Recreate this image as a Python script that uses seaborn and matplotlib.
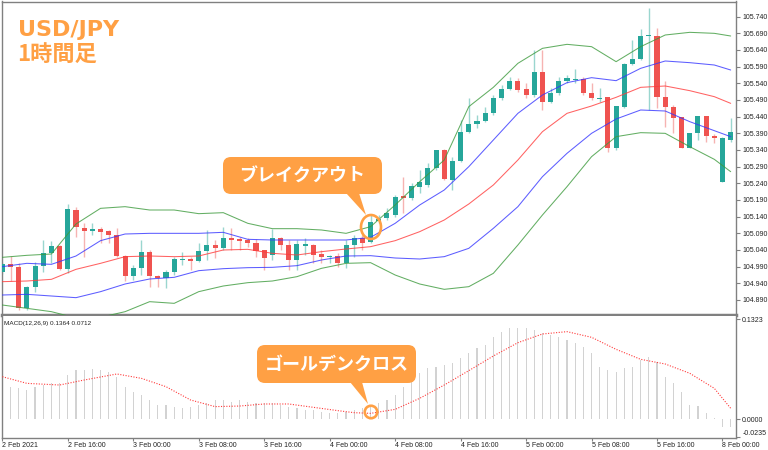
import numpy as np
import pandas as pd
import matplotlib
matplotlib.use('Agg')
import matplotlib.pyplot as plt
import seaborn as sns
from matplotlib.patches import FancyBboxPatch, Polygon, Ellipse

sns.set_style('white')
plt.rcParams['font.family'] = ['Liberation Sans', 'DejaVu Sans']

# ---------------- data (USD/JPY, 1h candles, 2 Feb 08:00 -> 8 Feb 01:00) ----------------
opens = [104.974, 104.998, 104.989, 104.866, 104.929, 104.992, 105.031, 105.052, 104.983, 105.160,
         105.106, 105.097, 105.103, 105.097, 105.085, 105.022, 104.962, 104.986, 105.034, 104.962,
         104.956, 104.974, 105.010, 105.013, 105.007, 105.037, 105.055, 105.046, 105.076, 105.073,
         105.070, 105.061, 105.040, 105.025, 105.076, 105.055, 105.010, 105.052, 105.055, 105.028,
         105.019, 105.022, 105.001, 105.055, 105.076, 105.064, 105.127, 105.135, 105.145, 105.202,
         105.195, 105.230, 105.235, 105.287, 105.340, 105.250, 105.308, 105.393, 105.418, 105.428,
         105.450, 105.495, 105.522, 105.548, 105.522, 105.505, 105.575, 105.485, 105.510, 105.548,
         105.550, 105.554, 105.510, 105.493, 105.498, 105.345, 105.470, 105.598, 105.613, 105.681,
         105.682, 105.500, 105.470, 105.438, 105.347, 105.390, 105.442, 105.382, 105.244, 105.370]
highs = [105.004, 105.022, 105.000, 104.932, 105.004, 105.070, 105.067, 105.055, 105.178, 105.169,
         105.121, 105.121, 105.109, 105.100, 105.106, 105.025, 104.995, 105.070, 105.040, 104.965,
         104.980, 105.019, 105.034, 105.019, 105.061, 105.100, 105.070, 105.109, 105.106, 105.080,
         105.076, 105.073, 105.040, 105.103, 105.079, 105.070, 105.070, 105.076, 105.058, 105.040,
         105.025, 105.030, 105.070, 105.085, 105.085, 105.145, 105.145, 105.165, 105.205, 105.260,
         105.240, 105.280, 105.300, 105.340, 105.342, 105.320, 105.430, 105.495, 105.445, 105.470,
         105.505, 105.535, 105.560, 105.555, 105.540, 105.640, 105.640, 105.525, 105.560, 105.565,
         105.582, 105.560, 105.540, 105.525, 105.500, 105.472, 105.600, 105.670, 105.702, 105.765,
         105.705, 105.547, 105.475, 105.440, 105.392, 105.442, 105.442, 105.388, 105.380, 105.435]
lows = [104.968, 104.947, 104.860, 104.860, 104.914, 104.974, 105.001, 104.980, 104.971, 105.079,
        105.019, 105.085, 105.061, 105.061, 105.019, 104.947, 104.950, 104.965, 104.929, 104.929,
        104.926, 104.965, 104.995, 104.980, 105.004, 105.010, 105.015, 105.040, 105.040, 105.040,
        105.050, 105.019, 104.980, 105.010, 105.040, 104.980, 104.980, 105.025, 105.000, 105.000,
        105.000, 104.990, 104.985, 105.020, 105.040, 105.060, 105.120, 105.130, 105.140, 105.150,
        105.190, 105.210, 105.230, 105.280, 105.250, 105.220, 105.305, 105.390, 105.405, 105.425,
        105.445, 105.490, 105.520, 105.515, 105.495, 105.500, 105.460, 105.480, 105.505, 105.540,
        105.540, 105.505, 105.490, 105.485, 105.335, 105.340, 105.465, 105.595, 105.610, 105.460,
        105.465, 105.408, 105.390, 105.345, 105.345, 105.370, 105.365, 105.360, 105.244, 105.365]
closes = [104.998, 104.989, 104.866, 104.929, 104.992, 105.031, 105.052, 104.983, 105.163, 105.109,
          105.097, 105.103, 105.094, 105.085, 105.022, 104.962, 104.986, 105.034, 104.962, 104.956,
          104.974, 105.013, 105.013, 105.007, 105.037, 105.055, 105.046, 105.076, 105.070, 105.067,
          105.061, 105.037, 105.016, 105.076, 105.055, 105.010, 105.058, 105.058, 105.025, 105.019,
          105.022, 105.001, 105.055, 105.076, 105.061, 105.124, 105.133, 105.150, 105.200, 105.197,
          105.232, 105.245, 105.287, 105.340, 105.252, 105.308, 105.393, 105.418, 105.428, 105.450,
          105.495, 105.522, 105.548, 105.520, 105.505, 105.575, 105.485, 105.510, 105.548, 105.555,
          105.554, 105.510, 105.495, 105.495, 105.345, 105.472, 105.598, 105.613, 105.682, 105.683,
          105.500, 105.470, 105.437, 105.347, 105.390, 105.442, 105.382, 105.375, 105.376, 105.395]

# Bollinger bands (read at every third bar)
band_idx = [0, 3, 6, 9, 12, 15, 18, 21, 24, 27, 30, 33, 36, 39, 42, 45, 48, 51, 54, 57,
            60, 63, 66, 69, 72, 75, 78, 81, 84, 87, 89]
bb_upper2 = [105.018, 105.024, 105.028, 105.118, 105.165, 105.170, 105.160, 105.160, 105.149, 105.152,
             105.120, 105.104, 105.104, 105.100, 105.090, 105.110, 105.175, 105.245, 105.310, 105.470,
             105.528, 105.600, 105.645, 105.657, 105.650, 105.605, 105.650, 105.685, 105.693, 105.690, 105.682]
bb_upper1 = [104.990, 105.000, 104.997, 105.022, 105.068, 105.088, 105.090, 105.090, 105.090, 105.093,
             105.072, 105.070, 105.070, 105.070, 105.070, 105.078, 105.120, 105.175, 105.220, 105.290,
             105.370, 105.450, 105.505, 105.542, 105.557, 105.548, 105.585, 105.607, 105.602, 105.595, 105.580]
bb_middle = [104.945, 104.947, 104.952, 104.982, 105.000, 105.020, 105.022, 105.020, 105.022, 105.040,
             105.042, 105.030, 105.025, 105.035, 105.043, 105.050, 105.068, 105.095, 105.130, 105.178,
             105.235, 105.310, 105.395, 105.450, 105.472, 105.498, 105.528, 105.532, 105.518, 105.500, 105.480]
bb_lower1 = [104.905, 104.907, 104.902, 104.897, 104.915, 104.938, 104.953, 104.958, 104.978, 104.984,
             104.987, 104.988, 104.993, 105.010, 105.022, 105.023, 105.016, 105.013, 105.020, 105.045,
             105.105, 105.170, 105.260, 105.330, 105.390, 105.433, 105.460, 105.457, 105.425, 105.398, 105.380]
bb_lower2 = [104.875, 104.865, 104.855, 104.836, 104.838, 104.855, 104.885, 104.880, 104.915, 104.932,
             104.942, 104.947, 104.960, 104.985, 105.000, 105.002, 104.965, 104.938, 104.922, 104.930,
             104.970, 105.055, 105.145, 105.230, 105.320, 105.380, 105.392, 105.390, 105.350, 105.312, 105.275]

# MACD(12,26,9): main (histogram) per bar, signal read at points
macd_main = [0.0432, 0.0423, 0.0410, 0.0388, 0.0432, 0.0454, 0.0476, 0.0476, 0.0587, 0.0653,
             0.0653, 0.0662, 0.0653, 0.0631, 0.0564, 0.0432, 0.0366, 0.0322, 0.0256, 0.0190,
             0.0190, 0.0168, 0.0146, 0.0168, 0.0190, 0.0212, 0.0256, 0.0256, 0.0234, 0.0256,
             0.0234, 0.0212, 0.0212, 0.0212, 0.0190, 0.0168, 0.0146, 0.0123, 0.0123, 0.0101,
             0.0079, 0.0079, 0.0101, 0.0123, 0.0146, 0.0168, 0.0212, 0.0256, 0.0322, 0.0432,
             0.0498, 0.0609, 0.0675, 0.0697, 0.0719, 0.0741, 0.0807, 0.0873, 0.0939, 0.0983,
             0.1094, 0.1160, 0.1204, 0.1204, 0.1204, 0.1182, 0.1138, 0.1116, 0.1094, 0.1050,
             0.1005, 0.0961, 0.0873, 0.0697, 0.0653, 0.0631, 0.0675, 0.0697, 0.0785, 0.0829,
             0.0763, 0.0564, 0.0476, 0.0366, 0.0190, 0.0176, 0.0084, 0.0018, -0.0101, -0.0101]
signal_idx = [0, 3, 7, 10, 14, 17, 20, 23, 26, 29, 32, 35, 38, 41, 43, 45, 48, 51, 54, 57,
              60, 63, 66, 69, 72, 75, 78, 81, 84, 87, 89]
macd_signal = [0.0564, 0.0476, 0.0454, 0.0520, 0.0600, 0.0542, 0.0432, 0.0256, 0.0168, 0.0176,
               0.0203, 0.0203, 0.0159, 0.0115, 0.0088, 0.0079, 0.0132, 0.0278, 0.0454, 0.0644,
               0.0838, 0.1014, 0.1129, 0.1160, 0.1085, 0.0926, 0.0794, 0.0732, 0.0609, 0.0410, 0.0146]

price_ticks = [104.890, 104.940, 104.990, 105.040, 105.090, 105.140, 105.190, 105.240, 105.290,
               105.340, 105.390, 105.440, 105.490, 105.540, 105.590, 105.640, 105.690, 105.740]
macd_ticks = [0.1323, 0.0000, -0.0235]
time_tick_idx = [0, 8, 16, 24, 32, 40, 48, 56, 64, 72, 80, 88]
time_labels = ['2 Feb 2021', '2 Feb 16:00', '3 Feb 00:00', '3 Feb 08:00', '3 Feb 16:00', '4 Feb 00:00',
               '4 Feb 08:00', '4 Feb 16:00', '5 Feb 00:00', '5 Feb 08:00', '5 Feb 16:00', '8 Feb 00:00']

title_lines = ['USD/JPY', '1時間足']
callout_break = 'ブレイクアウト'
callout_cross = 'ゴールデンクロス'
macd_label = 'MACD(12,26,9) 0.1364 0.0712'

# ---------------- figure ----------------
W, H = 768, 450
fig = plt.figure(figsize=(W / 100, H / 100), dpi=100)
fig.patch.set_facecolor('white')


def frac(x0, y0, x1, y1):
    return [x0 / W, 1 - y1 / H, (x1 - x0) / W, (y1 - y0) / H]


ax = fig.add_axes(frac(1.5, 1.5, 736, 315))
axm = fig.add_axes(frac(1.5, 316, 736, 438))

UP, DN = '#26a69a', '#ef5350'
UPW, DNW = '#9ad6cf', '#f6b3b2'
ORANGE = '#ffa044'
GRAY = '#808080'

df = pd.DataFrame({'i': np.arange(len(opens)), 'o': opens, 'h': highs, 'l': lows, 'c': closes})
df['up'] = df['c'] >= df['o']

ax.vlines(df['i'], df['l'], df['h'], colors=np.where(df['up'], UPW, DNW), lw=1.0, zorder=2)
ax.bar(df['i'], np.maximum((df['c'] - df['o']).abs(), 0.0025), bottom=np.minimum(df['o'], df['c']),
       width=0.62, color=np.where(df['up'], UP, DN), linewidth=0, zorder=3)

bands = pd.DataFrame({'i': band_idx, 'u2': bb_upper2, 'u1': bb_upper1, 'm': bb_middle,
                      'l1': bb_lower1, 'l2': bb_lower2})
for col, colr in [('u2', '#3c9a3c'), ('l2', '#3c9a3c'), ('u1', '#3535ff'), ('l1', '#3535ff'), ('m', '#ff3b3b')]:
    sns.lineplot(data=bands, x='i', y=col, ax=ax, color=colr, lw=0.75, alpha=0.8, zorder=4)

xlim = (-0.1, 89.65)
ax.set_xlim(*xlim)
ax.set_ylim(104.845, 105.7855)
ax.set_xlabel('')
ax.set_ylabel('')
ax.set_xticks([])
ax.yaxis.tick_right()
ax.set_yticks(price_ticks)
ax.set_yticklabels([f'{v:.3f}' for v in price_ticks])
ax.tick_params(axis='y', right=True, length=3, width=0.8, color=GRAY, labelsize=5, pad=1.5,
               labelcolor='#222222')
for s in ['left', 'top', 'right']:
    ax.spines[s].set_color(GRAY)
    ax.spines[s].set_linewidth(1.0)
ax.spines['bottom'].set_color(GRAY)
ax.spines['bottom'].set_linewidth(2.5)

# MACD panel
mdf = pd.DataFrame({'i': np.arange(len(macd_main)), 'v': macd_main})
axm.bar(mdf['i'], mdf['v'], width=0.14, color='#d2d2d2', linewidth=0, zorder=2)
sdf = pd.DataFrame({'i': signal_idx, 's': macd_signal})
sns.lineplot(data=sdf, x='i', y='s', ax=axm, color='#ff3b3b', lw=0.8, linestyle=(0, (1, 1.4)), zorder=3)
axm.set_xlim(*xlim)
axm.set_ylim(-0.0247, 0.1367)
axm.set_xlabel('')
axm.set_ylabel('')
axm.yaxis.tick_right()
axm.set_yticks(macd_ticks)
axm.set_yticklabels([f'{v:.4f}' for v in macd_ticks])
for lab in axm.get_yticklabels():
    if lab.get_text().startswith('-'):
        lab.set_va('bottom')
axm.set_xticks(time_tick_idx)
axm.set_xticklabels(time_labels, ha='left')
axm.tick_params(axis='y', right=True, length=3, width=0.8, color=GRAY, labelsize=5, pad=1.5,
                labelcolor='#222222')
axm.tick_params(axis='x', bottom=True, length=2.5, width=0.8, color=GRAY, labelsize=5, pad=0.5,
                labelcolor='#222222')
for s in ['left', 'right', 'bottom']:
    axm.spines[s].set_color(GRAY)
    axm.spines[s].set_linewidth(1.0)
axm.spines['top'].set_visible(False)
axm.text(0.003, 0.96, macd_label, transform=axm.transAxes, fontsize=4.6, va='top', ha='left',
         color='#222222')

# overlay annotations in pixel space
ov = fig.add_axes([0, 0, 1, 1])
ov.set_xlim(0, W)
ov.set_ylim(H, 0)
ov.axis('off')
ov.patch.set_alpha(0)

ov.text(18, 36, title_lines[0], fontsize=16, fontweight='bold', family=['DejaVu Sans'],
        color=ORANGE, va='baseline', ha='left')
ov.text(17, 62, title_lines[1], fontsize=16, fontweight='bold', family=['Noto Sans CJK JP', 'DejaVu Sans'],
        color=ORANGE, va='baseline', ha='left')

ov.add_patch(FancyBboxPatch((223, 157), 159, 37, boxstyle='round,pad=0,rounding_size=8',
                            fc=ORANGE, ec='none', zorder=5))
ov.add_patch(Polygon([(346, 193), (359, 193), (366, 215)], closed=True, fc=ORANGE, ec='none', zorder=5))
ov.add_patch(Ellipse((371, 227), 20, 24, fill=False, ec=ORANGE, lw=1.9, zorder=6))
ov.text(302.5, 176, callout_break, fontsize=13, fontweight='bold',
        family=['Noto Sans CJK JP', 'DejaVu Sans'], color='white', ha='center', va='center', zorder=7)

ov.add_patch(FancyBboxPatch((257, 345), 159, 38, boxstyle='round,pad=0,rounding_size=8',
                            fc=ORANGE, ec='none', zorder=5))
ov.add_patch(Polygon([(350, 382), (362, 382), (368, 404)], closed=True, fc=ORANGE, ec='none', zorder=5))
ov.add_patch(Ellipse((371, 412), 12.5, 12.5, fill=False, ec=ORANGE, lw=1.9, zorder=6))
ov.text(336.5, 364, callout_cross, fontsize=13, fontweight='bold',
        family=['Noto Sans CJK JP', 'DejaVu Sans'], color='white', ha='center', va='center', zorder=7)

fig.savefig('out.png', dpi=100, facecolor='white')
